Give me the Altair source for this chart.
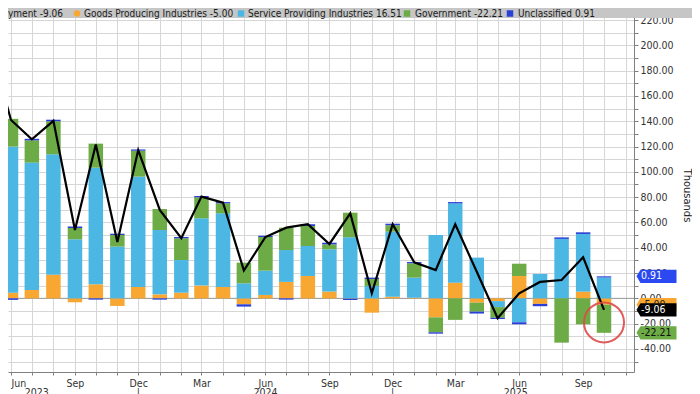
import altair as alt
import pandas as pd
from datetime import datetime, timezone

# ---------------- data ----------------
months = [
    "2023-06-01", "2023-07-01", "2023-08-01", "2023-09-01", "2023-10-01", "2023-11-01",
    "2023-12-01", "2024-01-01", "2024-02-01", "2024-03-01", "2024-04-01", "2024-05-01",
    "2024-06-01", "2024-07-01", "2024-08-01", "2024-09-01", "2024-10-01", "2024-11-01",
    "2024-12-01", "2025-01-01", "2025-02-01", "2025-03-01", "2025-04-01", "2025-05-01",
    "2025-06-01", "2025-07-01", "2025-08-01", "2025-09-01", "2025-10-01",
]
goods = [4.5, 6.6, 18.7, -3.1, 11.1, -6.0, 9.0, 3.2, 4.5, 10.1, 9.0, -4.7, 2.7, 13.0, 17.7,
         5.4, -0.3, -11.3, 1.3, 0.5, -15.0, 12.4, -3.4, -2.2, 17.7, -4.4, 0.0, 5.3, -5.00]
services = [115.4, 100.7, 95.2, 46.7, 92.2, 40.9, 87.2, 50.8, 25.8, 53.2, 58.2, 11.9, 19.2,
            25.2, 23.7, 33.4, 48.3, 9.8, 51.4, 15.9, 50.1, 62.7, 32.2, -4.7, -18.9, 19.3,
            47.0, 45.6, 16.51]
government = [22.0, 17.6, 26.1, 8.9, 19.0, 9.2, 20.5, 16.6, 17.2, 16.6, 7.9, 16.3, 26.6, 17.7,
              15.8, 3.9, 19.4, 5.5, 5.1, 11.3, -11.8, -17.0, -7.1, -8.4, 9.7, 0.0, -35.0,
              -20.5, -22.21]
unclassified = [-1.2, 1.2, 1.2, 1.2, -1.0, 1.0, 1.0, -1.0, 1.0, 1.0, 1.0, -1.8, 1.0, -1.0,
                1.4, 1.3, -1.0, 1.1, 1.2, 1.0, -1.1, 1.0, -1.5, -1.0, -1.6, -1.8, 1.2, 1.3, 0.91]

line_months = ["2023-05-01"] + months
employment = [202, 141, 125.7, 140.3, 54, 121.6, 44.5, 117.2, 69.9, 47.5, 80.4, 75.6, 22,
              48.5, 55.9, 58.6, 43, 67.2, 4, 58.6, 28.5, 22.4, 58.6, 21, -15.7, 4, 13, 14.5,
              32.5, -9.06]

series_names = ["Goods Producing Industries", "Service Providing Industries",
                "Government", "Unclassified"]
series_colors = ["#f8a832", "#4cb7e3", "#6cab45", "#2a3fd8"]

year_labels = ["2023", "|", "2024", "|", "2025"]
year_dates = ["2023-07-08", "2023-12-01", "2024-06-01", "2024-12-01", "2025-05-27"]

FONT = "Liberation Sans Narrow, Arial Narrow, DejaVu Sans Condensed, Liberation Sans, sans-serif"

# ---------------- tables ----------------
rows = []
for i, m in enumerate(months):
    for k, (name, arr) in enumerate(zip(series_names, [goods, services, government, unclassified])):
        rows.append({"month": m, "series": name, "value": arr[i], "ord": k})
bar_df = pd.DataFrame(rows)
line_df = pd.DataFrame({"month": line_months, "value": employment})

# ---------------- scales / axes ----------------
W, H = 626, 364


def ms(dt):
    return dt.replace(tzinfo=timezone.utc).timestamp() * 1000


first = datetime(2023, 6, 1)
last = datetime(2025, 10, 1)
ppd = 593 / (last - first).days
x_left = ms(first) - 3 / ppd * 86400000
x_right = ms(last) + 30 / ppd * 86400000

xscale = alt.Scale(type="utc", domain=[x_left, x_right], padding=0)
yscale = alt.Scale(domain=[-58.2, 229.5], nice=False, zero=False, padding=0)

xaxis = alt.Axis(
    title=None,
    tickCount={"interval": "month", "step": 1},
    labelExpr="utcmonth(datum.value) % 3 == 2 ? utcFormat(datum.value, '%b') : ''",
    labelOverlap=False, labelFlush=5,
    grid=True, gridColor="#d6d6d6", gridWidth=1,
    domainColor="#808080", tickColor="#808080", tickSize=3,
    labelFontSize=10.5, labelColor="#333333", labelPadding=3,
)
yaxis = alt.Axis(
    orient="right", title="Thousands",
    values=list(range(-50, 230, 10)),
    labelExpr="datum.value % 20 == 0 ? (datum.value < 0 ? '-' : '') + format(abs(datum.value), '.2f') : ''",
    grid=True, gridColor="#d6d6d6", gridWidth=1,
    domainColor="#808080", tickColor="#808080", tickSize=4,
    labelFontSize=10.5, labelColor="#333333", labelPadding=2,
    titleAngle=90, titleX=52, titleY=187, titleAlign="center", titleBaseline="middle",
    titleFontSize=11, titleFontWeight="normal", titleColor="#222222",
)


def X(field):
    return alt.X(f"{field}:T", scale=xscale, axis=xaxis)


def Y(field, **kw):
    return alt.Y(f"{field}:Q", scale=yscale, axis=yaxis, **kw)


# ---------------- layers ----------------
zero = alt.Chart(pd.DataFrame({"value": [0]})).mark_rule(color="#9a9a9a", strokeWidth=1).encode(
    y=Y("value"))

bars = alt.Chart(bar_df).mark_bar(width=14.5, clip=True).encode(
    x=X("month"),
    y=Y("value", stack="zero"),
    color=alt.Color("series:N", scale=alt.Scale(domain=series_names, range=series_colors),
                    legend=None),
    order=alt.Order("ord:Q", sort="ascending"),
)

line = alt.Chart(line_df).mark_line(color="black", strokeWidth=2.2, clip=True).encode(
    x=X("month"), y=Y("value"))

circle_df = pd.DataFrame({"month": [months[-1]], "value": [-19]})
circle = alt.Chart(circle_df).mark_point(shape="circle", filled=False, color="#de4b4b",
                                         strokeWidth=2, size=1600, opacity=0.9).encode(
    x=X("month"), y=Y("value"))

years = alt.Chart(pd.DataFrame({"month": year_dates, "label": year_labels})).mark_text(
    baseline="top", fontSize=10.5, color="#333333").encode(
    x=X("month"), y=alt.value(H + 16), text="label:N")

# legend strip
strip = alt.Chart(pd.DataFrame({"a": [0]})).mark_rect(color="#c6c6c6").encode(
    x=alt.value(0), x2=alt.value(W + 58), y=alt.value(0), y2=alt.value(10))

leg_text = ["Employment -9.06", "Goods Producing Industries -5.00",
            "Service Providing Industries 16.51", "Government -22.21", "Unclassified 0.91"]
leg_x = [55, 76, 240, 407, 510]
leg_align = ["right", "left", "left", "left", "left"]
legend_texts = []
for t, xx, al in zip(leg_text, leg_x, leg_align):
    legend_texts.append(
        alt.Chart(pd.DataFrame({"t": [t]})).mark_text(
            align=al, baseline="middle", fontSize=10, color="#1a1a1a").encode(
            x=alt.value(xx), y=alt.value(5.5), text="t:N"))
leg_marks = []
for xx, col, shp in zip([69, 233, 399, 502], series_colors,
                        ["circle", "square", "square", "square"]):
    leg_marks.append(
        alt.Chart(pd.DataFrame({"a": [0]})).mark_point(
            shape=shp, filled=True, color=col, size=42, opacity=1).encode(
            x=alt.value(xx), y=alt.value(5.5)))

# last-value tags on the right
tag_df = pd.DataFrame({
    "value": [goods[-1], services[-1] + unclassified[-1], goods[-1] + government[-1],
              employment[-1]],
    "label": [f"{goods[-1]:.2f}", f"{unclassified[-1]:.2f}", f"{government[-1]:.2f}",
              f"{employment[-1]:.2f}"],
    "bg": ["#f8a832", "#2a49f0", "#6cab45", "#000000"],
    "fg": ["#222222", "#ffffff", "#111111", "#ffffff"],
})
TAG = "M-1,0 L-0.8,-0.33 L1,-0.33 L1,0.33 L-0.8,0.33 Z"
tag_shapes = alt.Chart(tag_df).mark_point(shape=TAG, filled=True, size=1600, opacity=1,
                                          strokeWidth=0).encode(
    x=alt.value(W + 22.5), y=Y("value"), color=alt.Color("bg:N", scale=None))
tag_texts = alt.Chart(tag_df).mark_text(align="left", baseline="middle", fontSize=10.5).encode(
    x=alt.value(W + 7), y=Y("value"), text="label:N", color=alt.Color("fg:N", scale=None))

layers = [zero, bars, line, circle, years, strip] + legend_texts + leg_marks
chart = alt.layer(*layers, tag_shapes, tag_texts).properties(
    width=W, height=H,
    autosize=alt.AutoSizeParams(type="none"),
    padding={"left": 0, "top": 0, "right": 58, "bottom": 22},
).configure(font=FONT).configure_view(stroke=None)

chart.save("out.html", embed_options={"renderer": "svg", "actions": False})
